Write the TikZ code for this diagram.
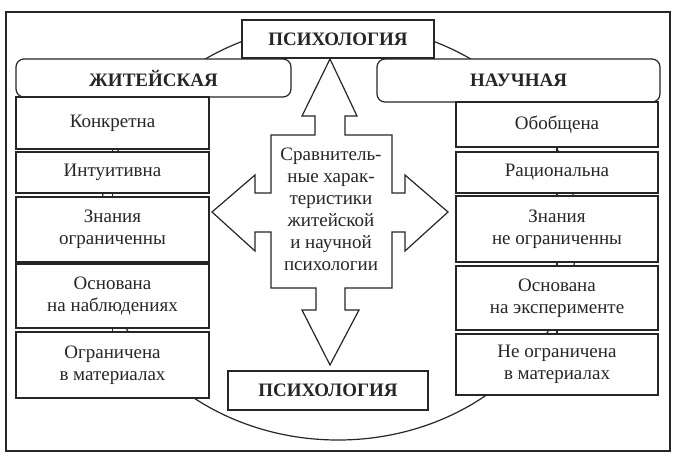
\documentclass[tikz,border=0pt]{standalone}
\usepackage{fontspec}
\setmainfont{Liberation Serif}

\begin{document}
\begin{tikzpicture}[x=1pt, y=-1pt, line width=1.2pt, color=black!85,
    cell/.style={draw, fill=white, align=center, inner sep=0pt, font=\fontsize{19}{22}\selectfont},
    lcell/.style={cell, minimum width=193},
    rcell/.style={cell, minimum width=202},
    head/.style={cell, rounded corners=8pt, font=\fontsize{19}{22}\selectfont\bfseries},
    title/.style={cell, font=\fontsize{19}{22}\selectfont\bfseries}]
    \useasboundingbox (0,0) rectangle (680,461);
    \draw (6,12) rectangle (670,451);
    \draw (338,232) ellipse [x radius=239, y radius=208];
    % four-way arrow
    \draw [fill=white, line join=miter] (330,59) -- (357,116) -- (345,116) -- (345,135) -- (392,135)
      -- (392,193) -- (405,193) -- (405,175) -- (448,212) -- (405,251) -- (405,232) -- (392,232)
      -- (392,288) -- (345,288) -- (345,310) -- (359,310) -- (330,365) -- (302,310) -- (316,310)
      -- (316,288) -- (271,288) -- (271,232) -- (255,232) -- (255,251) -- (212,212) -- (255,175)
      -- (255,193) -- (271,193) -- (271,135) -- (315,135) -- (315,116) -- (302,116) -- cycle;
    \node [font=\fontsize{19}{22}\selectfont, align=center] (mid) at (331,209)
      {Сравнитель-\\ные харак-\\теристики\\житейской\\и научной\\психологии};
    \node [title, minimum width=192, minimum height=38] (top) at (338,39) {ПСИХОЛОГИЯ};
    \node [title, minimum width=200, minimum height=39] (bottom) at (328,390.5) {ПСИХОЛОГИЯ};
    \node [head, minimum width=275, minimum height=38] (life) at (153.5,78) {ЖИТЕЙСКАЯ};
    \node [head, minimum width=283, minimum height=43] (sci) at (518.5,80.5) {НАУЧНАЯ};
    % left column
    \node [lcell, minimum height=52] (l1) at (112.5,123) {Конкретна};
    \node [lcell, minimum height=41] (l2) at (112.5,172.5) {Интуитивна};
    \node [lcell, minimum height=65] (l3) at (112.5,229.5) {Знания\\ограниченны};
    \node [lcell, minimum height=64] (l4) at (112.5,296) {Основана\\на наблюдениях};
    \node [lcell, minimum height=66] (l5) at (112.5,365) {Ограничена\\в материалах};
    % right column
    \node [rcell, minimum height=45] (r1) at (557,124.5) {Обобщена};
    \node [rcell, minimum height=41] (r2) at (557,172.5) {Рациональна};
    \node [rcell, minimum height=66] (r3) at (557,229) {Знания\\не ограниченны};
    \node [rcell, minimum height=64] (r4) at (557,298) {Основана\\на эксперименте};
    \node [rcell, minimum height=61] (r5) at (557,364.5) {Не ограничена\\в материалах};
    \draw (l1) to (l2);
    \draw (l2) to (l3);
    \draw (l3) to (l4);
    \draw (l4) to (l5);
    \draw (r1) to (r2);
    \draw (r2) to (r3);
    \draw (r3) to (r4);
    \draw (r4) to (r5);
\end{tikzpicture}
\end{document}
